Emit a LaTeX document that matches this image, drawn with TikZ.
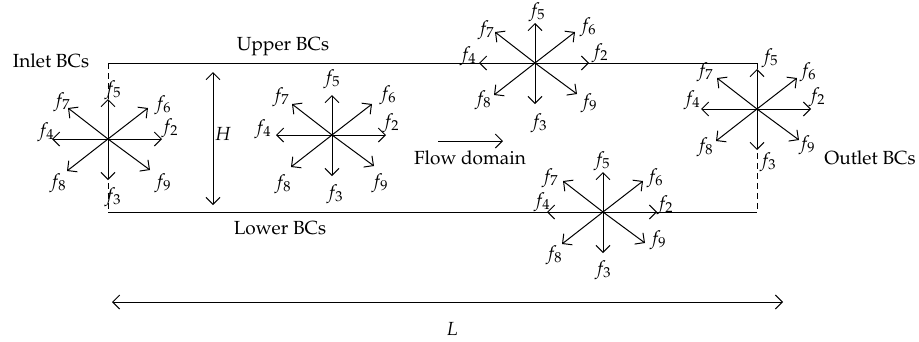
\documentclass[tikz,border=0pt]{standalone}
\usepackage[T1]{fontenc}
\usepackage{mathpazo}
\usetikzlibrary{arrows.meta}
\begin{document}
\begin{tikzpicture}[x=1pt,y=-1pt, line width=1pt,
  tip/.tip={Straight Barb[length=7pt,width=14pt]},
  arr/.style={-tip},
  darr/.style={tip-tip},
  txt/.style={font=\fontsize{19}{22}\selectfont, inner sep=0pt},
  fl/.style={font=\fontsize{19}{22}\selectfont, inner sep=0pt},
  openbc/.style={dash pattern=on 6pt off 4pt},
  star/.pic={
    \coordinate (-c) at (0,0);
    \coordinate (-t2) at (54,0);
    \coordinate (-t4) at (-56,0);
    \coordinate (-t5) at (0,-40);
    \coordinate (-t3) at (0,41);
    \coordinate (-t6) at (40,-31);
    \coordinate (-t7) at (-40,-31);
    \coordinate (-t8) at (-41,32);
    \coordinate (-t9) at (42,31);
    \foreach \n in {2,...,9} \draw[arr] (-c) -- (-t\n);
  }]
\useasboundingbox (0,0) rectangle (919,341);

% walls
\coordinate (ul) at (108,63);
\coordinate (ur) at (757,63);
\coordinate (ll) at (108,212);
\coordinate (lr) at (757,212);
\draw (ul) -- (ur);
\draw (ll) -- (lr);
\draw[openbc] (ul) -- (ll);
\draw[openbc] (ur) -- (lr);

% stars
\pic (s1) at (108,139) {star};
\pic (s2) at (332,135) {star};
\pic (s3) at (535,63) {star};
\pic (s4) at (603,212) {star};
\pic (s5) at (757,109) {star};

% labels
\foreach \i/\x/\y in {5/113/90, 7/62/102, 6/163/105, 2/170/128, 4/46/132, 8/58/183, 9/163/183, 3/113/197}
  \node[fl] (a\i) at (\x,\y) {$f_{\i}$};
\foreach \i/\x/\y in {5/332/79, 3/335/194, 6/388/95, 2/391/123, 4/263/129, 7/281/97, 8/283/184, 9/380/183}
  \node[fl] (b\i) at (\x,\y) {$f_{\i}$};
\foreach \i/\x/\y in {5/537/12, 6/588/27, 2/600/53, 4/468/56, 7/486/30, 8/483/100, 9/589/103, 3/539/123}
  \node[fl] (c\i) at (\x,\y) {$f_{\i}$};
\foreach \i/\x/\y in {5/602/161, 6/655/178, 2/665/205, 4/542/202, 7/550/178, 8/554/255, 9/658/240, 3/603/270}
  \node[fl] (d\i) at (\x,\y) {$f_{\i}$};
\foreach \i/\x/\y in {5/770/58, 6/808/72, 2/817/97, 4/692/100, 7/705/72, 8/705/147, 9/807/145, 3/768/162}
  \node[fl] (e\i) at (\x,\y) {$f_{\i}$};

% texts
\node[txt] (inlet) at (51,61) {Inlet BCs};
\node[txt] (upper) at (283,47) {Upper BCs};
\node[txt] (lower) at (280,228) {Lower BCs};
\node[txt] (outlet) at (870,158) {Outlet BCs};
\node[txt] (flow) at (470,158) {Flow domain};
\node[txt] (H) at (223,134) {$H$};
\node[txt] (L) at (452,329) {$L$};

% dimension arrows
\coordinate (h1) at (213,72);
\coordinate (h2) at (213,205);
\draw[darr] (h1) -- (h2);
\coordinate (l1) at (112,302);
\coordinate (l2) at (783,302);
\draw[darr] (l1) -- (l2);
\coordinate (fa) at (438,141);
\coordinate (fb) at (503,141);
\draw[arr] (fa) -- (fb);
\end{tikzpicture}
\end{document}
